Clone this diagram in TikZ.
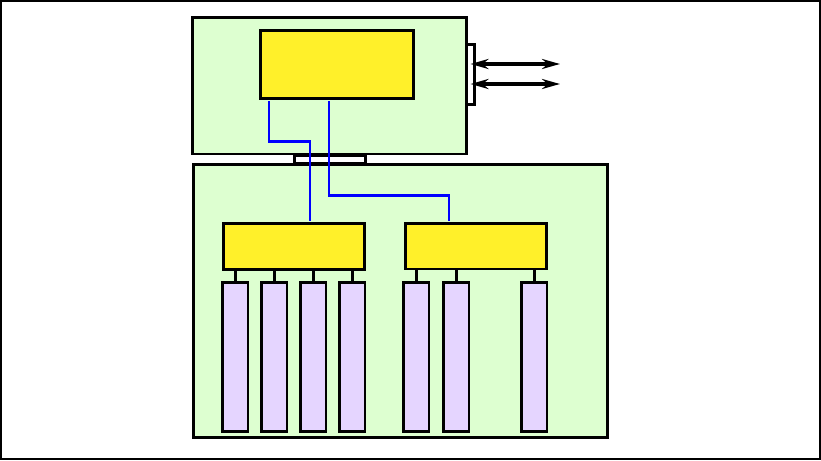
\documentclass[tikz,border=0pt]{standalone}
\usepackage{xcolor}
\usepackage{tikz}
\usetikzlibrary{positioning,arrows.meta,calc}
\definecolor{bgreen}{HTML}{DDFFD0}
\definecolor{cyel}{HTML}{FFF02A}
\definecolor{slv}{HTML}{E5D5FF}
\begin{document}
\begin{tikzpicture}[x=1pt, y=-1pt,
  >={Stealth[length=18pt, width=10pt]},
  b/.style={draw, line width=2.8pt, inner sep=0pt, anchor=north west},
  pl/.style={b, fill=bgreen}, c/.style={b, fill=cyel}, pt/.style={b, fill=white},
  sl/.style={b, fill=slv, minimum width=25.5pt, minimum height=149pt},
  w/.style={draw=blue, line width=2.8pt, shorten <=1.4pt, shorten >=1.4pt},
  st/.style={line width=3pt}]
\useasboundingbox (0,0) rectangle (821,460);
\draw[line width=2pt] (1,1) rectangle (819.5,458.5);
\node[pl, minimum width=274pt, minimum height=136.5pt] (top) at (191,16) {};
\node[c, minimum width=153pt, minimum height=68pt] (ctl) at (259,29) {};
\node[pt, minimum width=8.2pt, minimum height=60pt] (prt) at (465,43) {};
\node[pl, minimum width=414pt, minimum height=273pt] (bot) at (192,163) {};
\node[pt, minimum width=71pt, minimum height=8pt] (lnk) at (293,154) {};
\node[c, minimum width=141pt, minimum height=46pt] (ha) at (222,222) {};
\node[c, minimum width=141pt, minimum height=45.5pt] (hb) at (404,222) {};
\foreach \n/\x in {1/221,2/260,3/299,4/338,5/402,6/442,7/520}
  \node[sl] (s\n) at (\x,281) {};
\foreach \n in {1,...,4} \draw[st] (s\n.north) -- (s\n.north |- ha.south);
\foreach \n in {5,6,7} \draw[st] (s\n.north) -- (s\n.north |- hb.south);
\draw[w] ([xshift=10pt]ctl.south west) -- ++(0,42) -| ([xshift=88pt]ha.north west);
\draw[w] ([xshift=-8pt]ctl.south) -- ++(0,96) -| ([xshift=45pt]hb.north west);
\coordinate (e1) at (560,64); \coordinate (e2) at (560,84);
\draw[<->, line width=3.4pt] (prt.center |- e1) -- (e1);
\draw[<->, line width=3.4pt] (prt.center |- e2) -- (e2);
\end{tikzpicture}
\end{document}
